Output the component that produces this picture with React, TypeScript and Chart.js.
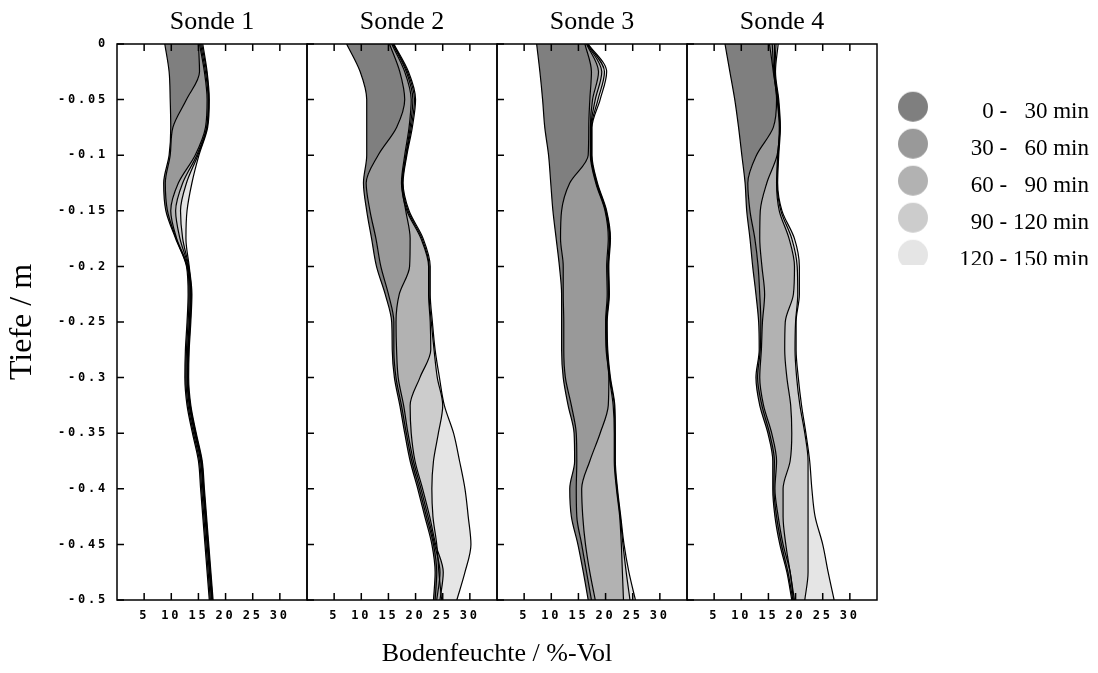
import React, { useEffect, useRef } from 'react';
import { Chart, registerables } from 'chart.js';

Chart.register(...registerables);

// ---- data -------------------------------------------------------------
const depths = [0, -0.025, -0.05, -0.075, -0.1, -0.125, -0.15, -0.175, -0.2, -0.225, -0.25,
  -0.275, -0.3, -0.325, -0.35, -0.375, -0.4, -0.425, -0.45, -0.475, -0.5];

// Sonde 1 — Bodenfeuchte (%-Vol) at each depth, profiles at 0/30/60/90/120/150 min
const s1t0 = [8.8, 9.6, 9.8, 9.9, 9.6, 8.6, 9.0, 10.8, 12.8, 13.1, 12.9, 12.6, 12.5, 12.9, 13.9, 15.0, 15.4, 15.8, 16.2, 16.6, 17.0];
const s1t30 = [15.0, 15.2, 12.8, 10.3, 9.8, 8.9, 9.3, 10.9, 12.9, 13.3, 13.1, 12.8, 12.7, 13.1, 14.1, 15.2, 15.6, 16.0, 16.4, 16.8, 17.2];
const s1t60 = [15.2, 16.1, 16.6, 16.3, 14.4, 11.3, 9.9, 11.0, 13.0, 13.5, 13.3, 13.0, 12.9, 13.3, 14.3, 15.4, 15.8, 16.2, 16.6, 17.0, 17.4];
const s1t90 = [15.4, 16.3, 16.8, 16.5, 14.7, 12.1, 10.8, 11.6, 13.1, 13.6, 13.4, 13.1, 13.0, 13.4, 14.4, 15.5, 15.9, 16.3, 16.7, 17.1, 17.5];
const s1t120 = [15.6, 16.5, 16.9, 16.6, 14.9, 12.8, 11.7, 12.1, 13.2, 13.7, 13.5, 13.2, 13.1, 13.5, 14.5, 15.6, 16.0, 16.4, 16.8, 17.2, 17.6];
const s1t150 = [15.8, 16.6, 17.0, 16.7, 15.1, 13.8, 12.9, 12.7, 13.3, 13.8, 13.6, 13.3, 13.2, 13.6, 14.6, 15.7, 16.1, 16.5, 16.9, 17.3, 17.7];

// Sonde 2
const s2t0 = [7.3, 9.8, 11.0, 11.0, 11.0, 10.4, 11.0, 11.9, 12.8, 14.4, 15.6, 15.7, 16.1, 17.1, 18.0, 19.0, 20.4, 21.7, 23.0, 23.6, 23.3];
const s2t30 = [15.2, 17.1, 18.0, 16.5, 13.1, 10.9, 11.6, 12.7, 13.6, 15.0, 16.0, 16.0, 16.4, 17.4, 18.3, 19.3, 20.7, 22.0, 23.3, 23.9, 23.6];
const s2t60 = [15.6, 18.0, 19.2, 18.8, 18.0, 17.4, 18.2, 19.0, 18.9, 17.0, 16.4, 16.5, 16.8, 17.8, 18.6, 19.6, 21.0, 22.3, 23.5, 24.5, 23.9];
const s2t90 = [15.8, 18.3, 19.5, 19.0, 18.2, 17.5, 18.4, 21.0, 22.4, 22.4, 22.7, 22.8, 20.8, 19.0, 19.2, 19.9, 21.3, 22.6, 23.7, 25.1, 24.5];
const s2t120 = [15.9, 18.5, 19.8, 19.2, 18.3, 17.6, 18.6, 21.2, 22.5, 22.5, 22.9, 23.4, 24.0, 25.0, 24.2, 23.3, 23.0, 23.2, 23.9, 24.3, 24.8];
const s2t150 = [16.0, 18.7, 20.0, 19.4, 18.4, 17.7, 18.8, 21.4, 22.7, 22.7, 23.1, 23.6, 24.4, 25.3, 27.0, 28.1, 29.1, 29.7, 30.2, 29.1, 27.6];

// Sonde 3
const s3t0 = [7.3, 7.9, 8.4, 8.8, 9.5, 9.9, 10.3, 10.9, 11.5, 11.9, 11.9, 11.9, 12.2, 13.1, 14.2, 14.3, 13.4, 13.7, 14.9, 15.9, 16.8];
const s3t30 = [16.2, 17.4, 17.1, 16.9, 16.8, 13.4, 11.9, 11.7, 12.2, 12.2, 12.3, 12.3, 12.6, 13.7, 14.6, 14.7, 14.6, 14.7, 15.6, 16.5, 17.4];
const s3t60 = [16.5, 18.7, 17.6, 17.2, 17.2, 18.2, 19.9, 20.5, 20.2, 20.3, 20.0, 20.1, 20.6, 20.5, 19.0, 17.1, 15.6, 15.8, 16.3, 17.1, 18.1];
const s3t90 = [16.6, 19.3, 18.1, 17.3, 17.3, 18.3, 20.0, 20.7, 20.4, 20.5, 20.1, 20.2, 20.7, 21.4, 21.6, 21.6, 22.0, 22.6, 22.9, 23.1, 23.3];
const s3t120 = [16.7, 19.8, 18.6, 17.4, 17.4, 18.4, 20.1, 20.8, 20.5, 20.6, 20.2, 20.3, 20.8, 21.6, 21.7, 21.7, 22.1, 22.7, 23.2, 23.8, 24.5];
const s3t150 = [16.8, 20.2, 19.0, 17.5, 17.5, 18.5, 20.2, 20.9, 20.6, 20.7, 20.3, 20.4, 20.9, 21.7, 21.8, 21.8, 22.2, 22.8, 23.4, 24.3, 25.5];

// Sonde 4
const s4t0 = [7.0, 7.9, 8.8, 9.5, 10.1, 10.7, 11.0, 11.6, 12.1, 12.7, 13.2, 13.3, 12.7, 13.4, 14.9, 15.8, 15.8, 16.2, 17.1, 18.4, 19.3];
const s4t30 = [15.2, 15.9, 16.5, 15.9, 12.8, 11.2, 11.6, 12.5, 13.1, 13.4, 13.6, 13.5, 13.0, 13.8, 15.2, 16.1, 16.0, 16.5, 17.4, 18.6, 19.5];
const s4t60 = [15.7, 16.0, 16.6, 17.0, 16.6, 14.7, 13.5, 13.4, 13.8, 14.3, 13.9, 13.7, 13.4, 14.1, 15.6, 16.5, 16.2, 16.8, 17.7, 19.0, 19.6];
const s4t90 = [16.1, 16.1, 16.7, 17.1, 16.7, 16.5, 17.0, 18.8, 19.8, 19.6, 18.1, 18.0, 18.4, 19.1, 19.3, 19.0, 17.7, 17.7, 18.2, 19.0, 19.8];
const s4t120 = [16.4, 16.2, 16.8, 17.1, 16.8, 16.6, 17.3, 19.3, 20.3, 20.4, 20.0, 19.9, 20.2, 20.8, 21.7, 22.3, 22.3, 22.3, 22.3, 22.3, 21.7];
const s4t150 = [16.8, 16.3, 16.9, 17.2, 16.9, 16.7, 17.5, 19.8, 20.7, 20.7, 20.1, 20.1, 20.5, 21.1, 21.9, 22.6, 23.0, 23.6, 25.0, 26.0, 27.1];

const profileTimes = [0, 30, 60, 90, 120, 150];
const intervalStarts = [0, 30, 60, 90, 120];
const intervalEnds = [30, 60, 90, 120, 150];
const panelTitles = ['Sonde 1', 'Sonde 2', 'Sonde 3', 'Sonde 4'];
const yTickValues = [0, -0.05, -0.1, -0.15, -0.2, -0.25, -0.3, -0.35, -0.4, -0.45, -0.5];
const yTickLabels = ['0', '-0.05', '-0.1', '-0.15', '-0.2', '-0.25', '-0.3', '-0.35', '-0.4', '-0.45', '-0.5'];
const xTickValues = [5, 10, 15, 20, 25, 30];
const xTickLabels = ['5', '10', '15', '20', '25', '30'];

// ---- styling ----------------------------------------------------------
const fillColors = ['#7f7f7f', '#999999', '#b2b2b2', '#cccccc', '#e5e5e5'];
const SERIF = "'Liberation Serif', 'Times New Roman', serif";
const MONO = { family: "'DejaVu Sans Mono', monospace", size: 12, weight: 'bold' };
const LETTER_SPACING = '2.8px';
const X_MIN = 0;
const X_MAX = 35;
const LEGEND_CLIP_Y = 265;
const TICK_LEN = 7;

const panelProfiles = [
  [s1t0, s1t30, s1t60, s1t90, s1t120, s1t150],
  [s2t0, s2t30, s2t60, s2t90, s2t120, s2t150],
  [s3t0, s3t30, s3t60, s3t90, s3t120, s3t150],
  [s4t0, s4t30, s4t60, s4t90, s4t120, s4t150],
];

const FIG = '\u2007';
const pad3 = (n: number) => String(n).padStart(3, FIG);
const legendLabels = intervalStarts.map((a, i) => `      ${pad3(a)} - ${pad3(intervalEnds[i])} min`);

function makeMarker(color: string) {
  const c = document.createElement('canvas');
  c.width = 32;
  c.height = 42;
  const g = c.getContext('2d')!;
  g.fillStyle = color;
  g.beginPath();
  g.arc(16, 16, 15, 0, Math.PI * 2);
  g.fill();
  return c;
}

const framePlugin = {
  id: 'panelFrames',
  beforeDraw(chart: any) {
    const ctx = chart.ctx;
    ctx.save();
    ctx.letterSpacing = '0px';
    const lg = chart.legend;
    ctx.beginPath();
    ctx.rect(0, 0, chart.width, chart.height);
    ctx.rect(lg.left, LEGEND_CLIP_Y, chart.width - lg.left, chart.height - LEGEND_CLIP_Y);
    ctx.clip('evenodd');
  },
  afterDatasetsDraw(chart: any) {
    chart.ctx.letterSpacing = LETTER_SPACING;
  },
  afterDraw(chart: any) {
    const ctx = chart.ctx;
    ctx.restore();
    const ca = chart.chartArea;
    const ys = chart.scales.y;
    ctx.save();
    ctx.strokeStyle = '#000';
    ctx.lineWidth = 1.5;
    for (let p = 1; p <= 4; p++) {
      const xs = chart.scales['x' + p];
      const L = xs.left;
      const R = xs.right;
      ctx.strokeRect(L, ca.top, R - L, ca.bottom - ca.top);
      ctx.beginPath();
      for (const v of xTickValues) {
        const px = xs.getPixelForValue(v);
        ctx.moveTo(px, ca.top);
        ctx.lineTo(px, ca.top + TICK_LEN);
        ctx.moveTo(px, ca.bottom);
        ctx.lineTo(px, ca.bottom - TICK_LEN);
      }
      for (const v of yTickValues) {
        const py = ys.getPixelForValue(v);
        ctx.moveTo(L, py);
        ctx.lineTo(L + TICK_LEN, py);
      }
      ctx.stroke();
    }
    ctx.restore();
  },
};

export default function App() {
  const ref = useRef<HTMLCanvasElement>(null);

  useEffect(() => {
    document.body.style.margin = '0';
    document.body.style.overflow = 'hidden';
    const markers = fillColors.map(makeMarker);

    const datasets: any[] = [];
    panelProfiles.forEach((profiles, pi) => {
      profiles.forEach((vals, k) => {
        datasets.push({
          label: `${panelTitles[pi]} ${profileTimes[k]} min`,
          data: vals.map((v, j) => ({ x: v, y: depths[j] })),
          xAxisID: 'x' + (pi + 1),
          yAxisID: 'y',
          borderColor: '#000',
          borderWidth: 1.2,
          pointRadius: 0,
          pointHoverRadius: 0,
          cubicInterpolationMode: 'monotone',
          backgroundColor: k === 0 ? 'rgba(0,0,0,0)' : fillColors[k - 1],
          fill: k === 0 ? false : '-1',
        });
      });
    });

    const scales: any = {
      y: {
        type: 'linear',
        position: 'left',
        min: -0.5,
        max: 0,
        afterBuildTicks: (s: any) => { s.ticks = yTickValues.map((v) => ({ value: v })); },
        afterFit: (s: any) => { s.width = 117; },
        ticks: {
          font: MONO,
          color: '#000',
          padding: 9,
          z: 1,
          autoSkip: false,
          callback: (value: number) => {
            const i = yTickValues.findIndex((t) => Math.abs(t - value) < 1e-9);
            return i >= 0 ? yTickLabels[i] : '';
          },
        },
        grid: { display: false, drawTicks: false },
        border: { display: false },
        title: {
          display: true,
          text: 'Tiefe / m',
          color: '#000',
          font: { family: SERIF, size: 32 },
          padding: { top: 3, bottom: 0 },
        },
      },
      xt: {
        type: 'linear',
        position: 'bottom',
        weight: 1,
        min: 0,
        max: 1,
        afterFit: (s: any) => { s.height = 43; },
        ticks: { display: false },
        grid: { display: false, drawTicks: false },
        border: { display: false },
        title: {
          display: true,
          text: 'Bodenfeuchte / %-Vol',
          color: '#000',
          font: { family: SERIF, size: 26 },
          padding: { top: 0, bottom: 3 },
        },
      },
    };

    panelTitles.forEach((title, pi) => {
      scales['x' + (pi + 1)] = {
        type: 'linear',
        position: 'bottom',
        stack: 'panels',
        min: X_MIN,
        max: X_MAX,
        afterBuildTicks: (s: any) => { s.ticks = xTickValues.map((v) => ({ value: v })); },
        afterFit: (s: any) => { s.height = 30; },
        ticks: {
          font: MONO,
          color: '#000',
          padding: 9,
          z: 1,
          autoSkip: false,
          maxRotation: 0,
          callback: (value: number) => {
            const i = xTickValues.indexOf(value);
            return i >= 0 ? xTickLabels[i] : '';
          },
        },
        grid: { display: false, drawTicks: false },
        border: { display: false },
      };
    });

    // top-stacked axes are laid out from the last-registered one, so add them in reverse
    for (let pi = panelTitles.length - 1; pi >= 0; pi--) {
      scales['t' + (pi + 1)] = {
        type: 'linear',
        axis: 'x',
        position: 'top',
        stack: 'titles',
        min: 0,
        max: 1,
        afterFit: (s: any) => { s.height = 44; },
        ticks: { display: false },
        grid: { display: false, drawTicks: false },
        border: { display: false },
        title: {
          display: true,
          text: panelTitles[pi],
          color: '#000',
          font: { family: SERIF, size: 26 },
          padding: { top: 6.6, bottom: 0 },
        },
      };
    }

    const chart = new Chart(ref.current as HTMLCanvasElement, {
      type: 'line',
      data: { datasets },
      options: {
        responsive: false,
        animation: false,
        indexAxis: 'y',
        events: [],
        layout: { padding: { left: 0, right: 9, top: 0, bottom: 0 } },
        scales,
        plugins: {
          filler: { drawTime: 'beforeDatasetsDraw', propagate: false },
          tooltip: { enabled: false },
          legend: {
            position: 'right',
            align: 'start',
            maxWidth: 212,
            title: {
              display: true,
              text: ' ',
              font: { size: 10 },
              padding: { top: 37, bottom: 37.2 },
            },
            labels: {
              usePointStyle: true,
              pointStyleWidth: 44,
              boxHeight: 23,
              padding: 14,
              color: '#000',
              textAlign: 'right',
              font: { family: SERIF, size: 23 },
              generateLabels: () => legendLabels.map((text, i) => ({
                text,
                fillStyle: fillColors[i],
                strokeStyle: fillColors[i],
                lineWidth: 0,
                pointStyle: markers[i],
                hidden: false,
                fontColor: '#000',
                textAlign: 'right',
                datasetIndex: i + 1,
              })),
            },
          },
        },
      } as any,
      plugins: [framePlugin],
    } as any);

    return () => chart.destroy();
  }, []);

  return (
    <div style={{ width: 1098, height: 673, position: 'relative' }}>
      <canvas ref={ref} width={1098} height={673} style={{ display: 'block' }} />
    </div>
  );
}
